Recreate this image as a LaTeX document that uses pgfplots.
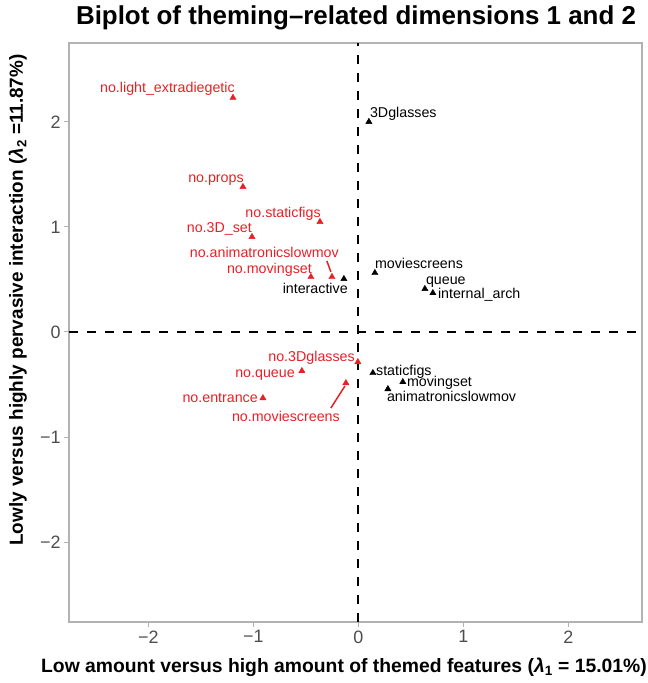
\documentclass[border=0pt]{standalone}
\usepackage{pgfplots}
\pgfplotsset{compat=1.18}
\usepackage{fontspec}
\setmainfont{Liberation Sans}
\definecolor{ptred}{RGB}{232,32,38}
\definecolor{framegray}{RGB}{178,178,178}
\definecolor{ticktext}{RGB}{77,77,77}
\begin{document}
\begin{tikzpicture}[x=1bp,y=1bp]
\useasboundingbox (-69,-61) rectangle (579,622);
\begin{axis}[
  at={(0,0)}, anchor=south west,
  scale only axis, width=573bp, height=579bp,
  xmin=-2.755, xmax=2.70, ymin=-2.76, ymax=2.75,
  clip=false,
  axis line style={framegray, line width=1.3bp},
  tick pos=left, tick align=outside,
  major tick length=5bp,
  tick style={framegray, line width=1bp},
  xtick={-2,-1,0,1,2}, ytick={-2,-1,0,1,2},
  xticklabels={−2,−1,0,1,2}, yticklabels={−2,−1,0,1,2},
  ticklabel style={font=\fontsize{18}{18}\selectfont, text=ticktext},
]
% reference lines
\addplot[black, line width=2.2bp, dash pattern=on 9bp off 9bp] coordinates {(0,-2.76) (0,2.75)};
\addplot[black, line width=2.2bp, dash pattern=on 9bp off 9bp] coordinates {(-2.755,0) (2.70,0)};
% leader segments
\addplot[ptred, line width=1.5bp] coordinates {(-0.300,0.676) (-0.262,0.571)};
\addplot[ptred, line width=1.5bp] coordinates {(-0.262,-0.724) (-0.128,-0.514)};
% red points
\addplot[only marks, mark=triangle*, mark size=3.6bp, ptred] coordinates {
(-1.194,2.229) (-1.099,1.381) (-0.366,1.048) (-1.013,0.905) (-0.252,0.524)
(-0.452,0.524) (-0.005,-0.286) (-0.538,-0.371) (-0.909,-0.629) (-0.119,-0.486)};
% black points
\addplot[only marks, mark=triangle*, mark size=3.6bp, black] coordinates {
(-0.138,0.505) (0.100,2.000) (0.157,0.562) (0.633,0.410) (0.709,0.371)
(0.138,-0.390) (0.423,-0.476) (0.281,-0.543)};
% labels
\begin{scope}[every node/.style={inner sep=0pt, font=\fontsize{14.3}{16}\selectfont}]
\node[anchor=base east, text=ptred] at (axis cs:-1.175,2.276) {no.light\_extradiegetic};
\node[anchor=base east, text=ptred] at (axis cs:-1.090,1.419) {no.props};
\node[anchor=base east, text=ptred] at (axis cs:-0.357,1.085) {no.staticfigs};
\node[anchor=base east, text=ptred] at (axis cs:-1.013,0.942) {no.3D\_set};
\node[anchor=base east, text=ptred] at (axis cs:-0.185,0.704) {no.animatronicslowmov};
\node[anchor=base east, text=ptred] at (axis cs:-0.442,0.552) {no.movingset};
\node[anchor=base east, text=ptred] at (axis cs:-0.033,-0.277) {no.3Dglasses};
\node[anchor=base east, text=ptred] at (axis cs:-0.604,-0.438) {no.queue};
\node[anchor=base east, text=ptred] at (axis cs:-0.956,-0.667) {no.entrance};
\node[anchor=base, text=ptred] at (axis cs:-0.690,-0.848) {no.moviescreens};
\node[anchor=base east] at (axis cs:-0.100,0.362) {interactive};
\node[anchor=base west] at (axis cs:0.109,2.038) {3Dglasses};
\node[anchor=base west] at (axis cs:0.157,0.600) {moviescreens};
\node[anchor=base west] at (axis cs:0.642,0.447) {queue};
\node[anchor=base west] at (axis cs:0.756,0.323) {internal\_arch};
\node[anchor=base west] at (axis cs:0.167,-0.410) {staticfigs};
\node[anchor=base west] at (axis cs:0.461,-0.515) {movingset};
\node[anchor=base west] at (axis cs:0.271,-0.658) {animatronicslowmov};
\end{scope}
\end{axis}
% title and axis titles
\node[anchor=base, inner sep=0pt, font=\fontsize{26}{28}\selectfont\bfseries] at (287,597) {Biplot of theming–related dimensions 1 and 2};
\node[anchor=base, inner sep=0pt, font=\fontsize{19.4}{21}\selectfont\bfseries] at (275,-50) {Low amount versus high amount of themed features (\textit{λ}\textsubscript{1} = 15.01\%)};
\node[anchor=base, inner sep=0pt, rotate=90, font=\fontsize{19}{21}\selectfont\bfseries] at (-46,322) {Lowly versus highly pervasive interaction (\textit{λ}\textsubscript{2} =11.87\%)};
\end{tikzpicture}
\end{document}
